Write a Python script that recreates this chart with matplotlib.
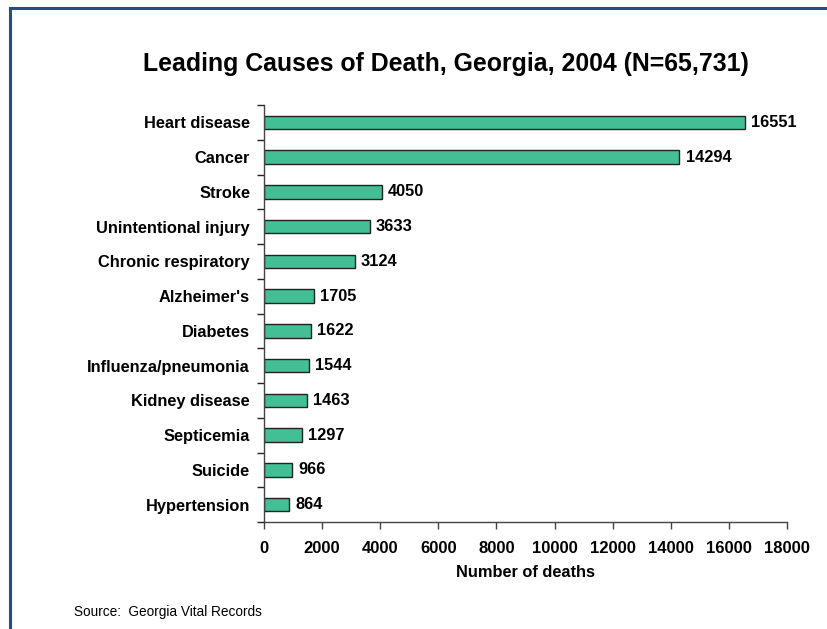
import matplotlib
matplotlib.use("Agg")
import matplotlib.pyplot as plt
from matplotlib.lines import Line2D

plt.rcParams['font.family'] = ['Liberation Sans', 'DejaVu Sans']

categories = ["Heart disease", "Cancer", "Stroke", "Unintentional injury",
              "Chronic respiratory", "Alzheimer's", "Diabetes",
              "Influenza/pneumonia", "Kidney disease", "Septicemia",
              "Suicide", "Hypertension"]
deaths = [16551, 14294, 4050, 3633, 3124, 1705, 1622, 1544, 1463, 1297, 966, 864]
xticks = [0, 2000, 4000, 6000, 8000, 10000, 12000, 14000, 16000, 18000]

W, H = 828, 629
fig = plt.figure(figsize=(W / 100, H / 100), dpi=100)
fig.patch.set_facecolor('white')

# frame lines (top and left)
frame_col = '#1F4E89'
fig.add_artist(Line2D([10 / W, 1.0], [1 - 8 / H, 1 - 8 / H], color=frame_col, lw=2.2))
fig.add_artist(Line2D([10 / W, 10 / W], [0, 1 - 8 / H], color=frame_col, lw=2.2))

left, right = 264 / W, 787 / W
bottom, top = 1 - 522 / H, 1 - 105 / H
ax = fig.add_axes([left, bottom, right - left, top - bottom])

n = len(categories)
ypos = list(range(n))
ax.barh(ypos, deaths, height=0.39, color='#42BF94', edgecolor='#222222', linewidth=1.0)
ax.set_ylim(n - 0.5, -0.5)
ax.set_xlim(0, 18000)

fs = 11.8
for y, v in zip(ypos, deaths):
    ax.annotate(str(v), xy=(v, y), xytext=(4.5, 0), textcoords='offset points',
                va='center', ha='left', fontsize=fs, fontweight='bold')

ax.set_yticks(ypos)
ax.set_yticklabels(categories, fontsize=fs, fontweight='bold')
ax.tick_params(axis='y', length=0, pad=10)
ax.set_yticks([i - 0.5 for i in range(n + 1)], minor=True)
ax.tick_params(axis='y', which='minor', length=5, width=1, color='#222222')

ax.set_xticks(xticks)
ax.set_xticklabels([str(t) for t in xticks], fontsize=12, fontweight='bold')
ax.tick_params(axis='x', length=5, width=1, color='#444444', pad=9)
ax.set_xlabel("Number of deaths", fontsize=fs, fontweight='bold', labelpad=6)

for s in ['top', 'right']:
    ax.spines[s].set_visible(False)
for s in ['left', 'bottom']:
    ax.spines[s].set_color('#444444')
    ax.spines[s].set_linewidth(1.0)

fig.text(446 / W, 1 - 64 / H, "Leading Causes of Death, Georgia, 2004 (N=65,731)",
         ha='center', va='center', fontsize=17.9, fontweight='bold')
fig.text(74 / W, 1 - 612 / H, "Source:  Georgia Vital Records",
         ha='left', va='center', fontsize=9.8)

fig.savefig("out.png", dpi=100, facecolor='white')
